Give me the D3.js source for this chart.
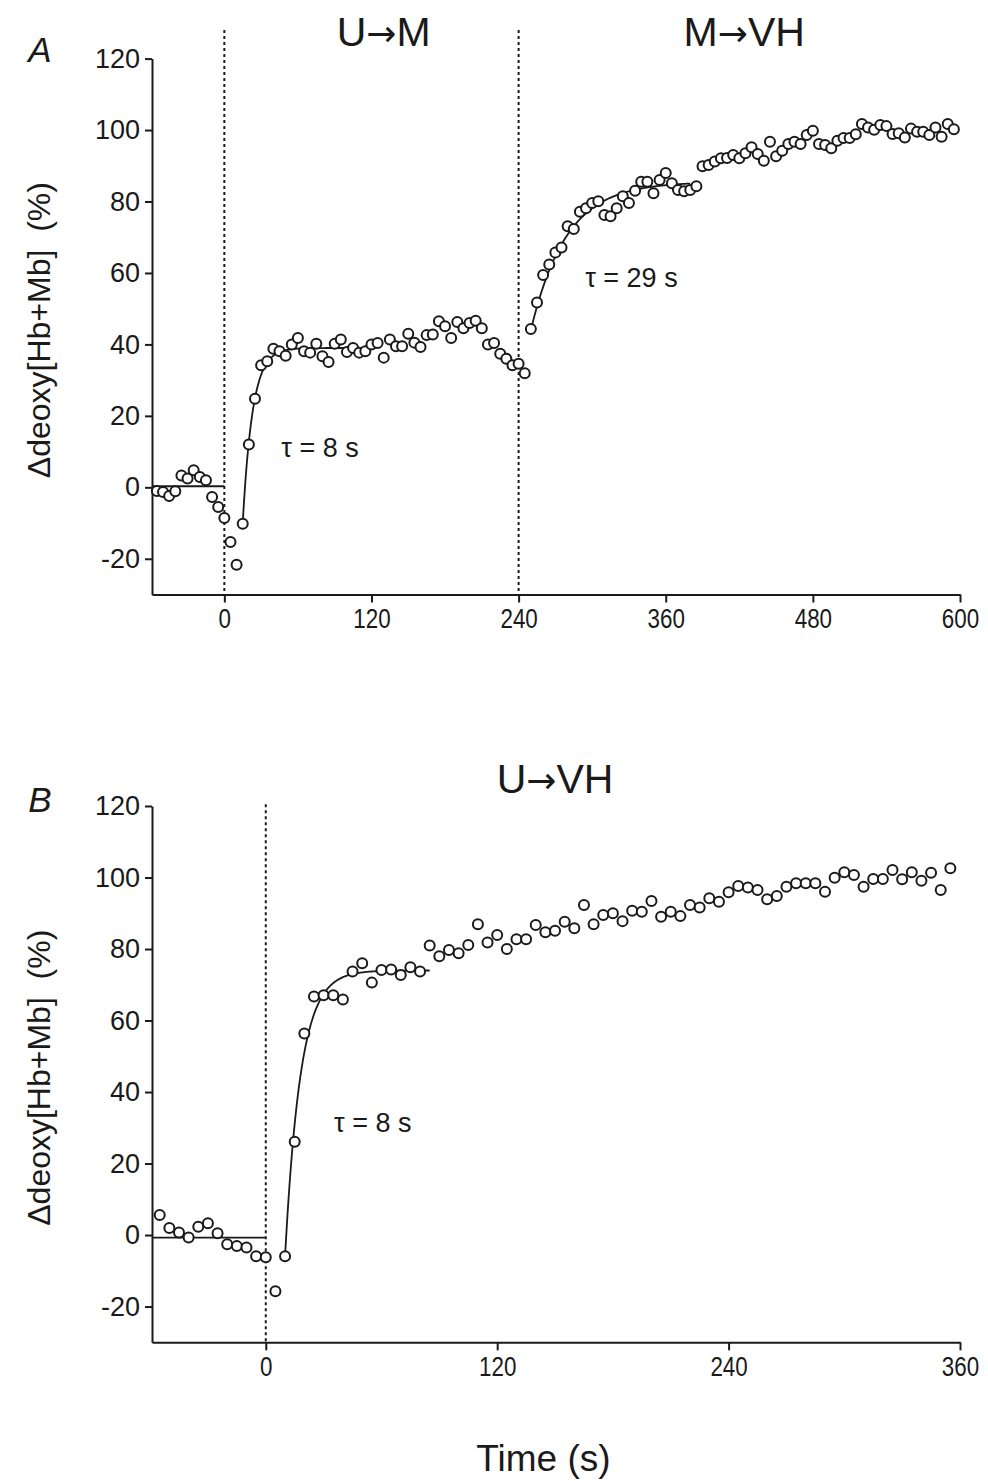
<!DOCTYPE html>
<html>
<head>
<meta charset="utf-8">
<script src="https://cdn.jsdelivr.net/npm/d3@7"></script>
<style>
  body { margin: 0; background: #fff; }
  text { font-family: "Liberation Sans", Arial, sans-serif; fill: #1a1a1a; }
</style>
</head>
<body>
<script>
// panel A: U->M at 0 s, M->VH at 240 s (samples every 5 s)
const timeA = [-55, -50, -45, -40, -35, -30, -25, -20, -15, -10, -5, 0,
  5, 10, 15, 20, 25, 30, 35, 40, 45, 50, 55, 60, 65, 70, 75, 80, 85, 90, 95, 100,
  105, 110, 115, 120, 125, 130, 135, 140, 145, 150, 155, 160, 165, 170, 175, 180,
  185, 190, 195, 200, 205, 210, 215, 220, 225, 230, 235, 240, 245,
  250, 255, 260, 265, 270, 275, 280, 285, 290, 295, 300, 305, 310, 315, 320, 325,
  330, 335, 340, 345, 350, 355, 360, 365, 370, 375, 380, 385, 390, 395, 400, 405,
  410, 415, 420, 425, 430, 435, 440, 445, 450, 455, 460, 465, 470, 475, 480, 485,
  490, 495, 500, 505, 510, 515, 520, 525, 530, 535, 540, 545, 550, 555, 560, 565,
  570, 575, 580, 585, 590, 595];
const deoxyA = [-1.0, -1.3, -2.4, -1.1, 3.3, 2.5, 4.8, 2.9, 2.0, -2.7, -5.5, -8.6,
  -15.3, -21.7, -10.2, 12.0, 24.8, 34.2, 35.3, 38.8, 38.1, 36.8, 40.0, 41.8, 38.1, 37.7, 40.2, 36.7, 35.1, 40.2, 41.4, 37.9,
  39.0, 37.7, 38.1, 40.0, 40.4, 36.3, 41.4, 39.5, 39.5, 43.0, 40.5, 39.3, 42.6, 42.8, 46.5, 45.1,
  41.8, 46.3, 44.5, 46.0, 46.6, 44.5, 40.0, 40.4, 37.4, 36.0, 34.2, 34.6, 31.9,
  44.3, 51.7, 59.4, 62.4, 65.7, 67.1, 73.1, 72.3, 77.1, 78.1, 79.6, 80.1, 76.2, 75.9, 78.1, 81.5,
  79.6, 83.0, 85.5, 85.5, 82.3, 86.0, 88.0, 85.1, 83.2, 82.9, 83.2, 84.3, 89.9, 90.2, 91.2, 92.1,
  92.2, 93.0, 92.1, 93.5, 95.2, 93.3, 91.4, 96.7, 92.7, 94.2, 96.1, 96.7, 96.1, 98.6, 99.8, 96.1,
  95.8, 94.9, 97.0, 97.8, 97.8, 98.8, 101.7, 100.7, 100.1, 101.4, 101.1, 98.9, 99.1, 97.9, 100.4, 99.5,
  99.5, 98.6, 100.7, 98.1, 101.7, 100.2];

// panel B: U->VH at 0 s
const timeB = [-55, -50, -45, -40, -35, -30, -25, -20, -15, -10, -5, 0,
  5, 10, 15, 20, 25, 30, 35, 40, 45, 50, 55, 60, 65, 70, 75, 80, 85, 90, 95, 100,
  105, 110, 115, 120, 125, 130, 135, 140, 145, 150, 155, 160, 165, 170, 175, 180,
  185, 190, 195, 200, 205, 210, 215, 220, 225, 230, 235, 240, 245, 250, 255, 260,
  265, 270, 275, 280, 285, 290, 295, 300, 305, 310, 315, 320, 325, 330, 335, 340,
  345, 350, 355];
const deoxyB = [5.6, 2.0, 0.7, -0.7, 2.3, 3.3, 0.5, -2.6, -3.1, -3.5, -5.9, -6.2,
  -15.7, -5.9, 26.1, 56.4, 66.7, 67.1, 67.1, 65.9, 73.7, 76.0, 70.6, 74.1, 74.3, 72.7, 74.9, 73.7, 81.0, 78.0, 79.7, 78.8,
  81.1, 86.9, 81.8, 83.9, 80.0, 82.7, 82.7, 86.7, 84.7, 85.1, 87.6, 85.8, 92.3, 86.9, 89.5, 90.0,
  87.8, 90.7, 90.4, 93.4, 89.0, 90.4, 89.2, 92.3, 91.6, 94.2, 93.2, 95.9, 97.6, 97.2, 96.5, 93.9,
  94.8, 97.4, 98.4, 98.4, 98.4, 96.0, 99.9, 101.5, 100.7, 97.4, 99.6, 99.6, 102.1, 99.5, 101.5, 99.1,
  101.3, 96.5, 102.6];

// mono-exponential fits: start time, start value, amplitude, tau, end time
const fitsA = [
  { t0: 15, y0: -10, amp: 49, tau: 8, t1: 120 },
  { t0: 250, y0: 44, amp: 41.5, tau: 29, t1: 380 }
];
const fitsB = [
  { t0: 10, y0: -6, amp: 80, tau: 8, t1: 85 }
];
const baselineA = 0.3;
const baselineB = -0.7;

const yTicks = [-20, 0, 20, 40, 60, 80, 100, 120];
const xTicksA = [0, 120, 240, 360, 480, 600];
const xTicksB = [0, 120, 240, 360];

const svg = d3.select("body").append("svg")
  .attr("width", 988)
  .attr("height", 1481);

function drawPanel(p) {
  const x = d3.scaleLinear().domain(p.xDomain).range(p.xRange);
  const y = d3.scaleLinear().domain([-30, 120]).range(p.yRange);
  const g = svg.append("g");

  // step-change markers
  g.selectAll(".step")
    .data(p.steps)
    .enter().append("line")
    .attr("x1", d => x(d)).attr("x2", d => x(d))
    .attr("y1", y(p.dashTop)).attr("y2", y(-30))
    .attr("stroke", "#1a1a1a")
    .attr("stroke-width", 2)
    .attr("stroke-dasharray", "3,3");

  // x axis (labels are a condensed face in the original)
  const xAxis = g.append("g")
    .attr("transform", "translate(0," + y(-30) + ")")
    .call(d3.axisBottom(x).tickValues(p.xTicks).tickFormat(d => String(d))
      .tickSize(8).tickSizeOuter(0).tickPadding(6));
  xAxis.selectAll("text")
    .style("font-size", "28px")
    .attr("transform", "scale(0.8,1)");

  // y axis
  const yAxis = g.append("g")
    .attr("transform", "translate(" + x(p.xDomain[0]) + ",0)")
    .call(d3.axisLeft(y).tickValues(yTicks).tickFormat(d => String(d))
      .tickSize(7).tickSizeOuter(0).tickPadding(5));
  yAxis.selectAll("text").style("font-size", "27px");

  g.selectAll(".domain, .tick line")
    .attr("stroke", "#1a1a1a")
    .attr("stroke-width", 2);

  // baseline mean
  g.append("line")
    .attr("x1", x(p.xDomain[0])).attr("x2", x(0))
    .attr("y1", y(p.baseline)).attr("y2", y(p.baseline))
    .attr("stroke", "#1a1a1a")
    .attr("stroke-width", 1.8);

  // fitted curves
  const line = d3.line()
    .x(d => x(d[0]))
    .y(d => y(d[1]));
  p.fits.forEach(f => {
    const pts = d3.range(f.t0, f.t1 + 0.5, 0.5)
      .map(t => [t, f.y0 + f.amp * (1 - Math.exp(-(t - f.t0) / f.tau))]);
    g.append("path")
      .datum(pts)
      .attr("fill", "none")
      .attr("stroke", "#1a1a1a")
      .attr("stroke-width", 1.8)
      .attr("d", line);
  });

  // data points
  g.selectAll(".pt")
    .data(p.time.map((t, i) => [t, p.values[i]]))
    .enter().append("circle")
    .attr("cx", d => x(d[0]))
    .attr("cy", d => y(d[1]))
    .attr("r", 5)
    .attr("fill", "#fff")
    .attr("stroke", "#1a1a1a")
    .attr("stroke-width", 2);

  // tau labels
  p.taus.forEach(d => {
    g.append("text")
      .attr("x", x(d.t)).attr("y", y(d.v))
      .attr("text-anchor", "middle")
      .attr("dominant-baseline", "middle")
      .style("font-size", "27px")
      .text(d.label);
  });

  // transition titles, e.g. U→M
  p.titles.forEach(d => {
    const t = g.append("text")
      .attr("x", x(d.t)).attr("y", y(d.v))
      .attr("text-anchor", "middle")
      .style("font-size", "41px");
    t.append("tspan").text(d.from);
    t.append("tspan")
      .style("font-family", '"DejaVu Sans", sans-serif')
      .style("font-size", "36px")
      .text("\u2192");
    t.append("tspan").text(d.to);
  });

  // panel letter
  g.append("text")
    .attr("x", 40).attr("y", y(p.letterV))
    .attr("text-anchor", "middle")
    .style("font-size", "35px")
    .style("font-style", "italic")
    .text(p.letter);

  // y axis label
  g.append("text")
    .attr("transform", "translate(50," + y(44) + ") rotate(-90)")
    .attr("text-anchor", "middle")
    .style("font-size", "32px")
    .style("white-space", "pre")
    .text("\u0394deoxy[Hb+Mb]  (%)");

  return { x, y };
}

drawPanel({
  time: timeA, values: deoxyA, fits: fitsA, baseline: baselineA,
  xDomain: [-59, 600], xRange: [152, 960], yRange: [594.5, 58.6],
  xTicks: xTicksA, steps: [0, 240], dashTop: 128,
  taus: [{ t: 78, v: 10.6, label: "\u03c4 = 8 s" }, { t: 332, v: 58, label: "\u03c4 = 29 s" }],
  titles: [{ t: 130, v: 123.5, from: "U", to: "M" }, { t: 424, v: 123.5, from: "M", to: "VH" }],
  letter: "A", letterV: 119
});

const pB = drawPanel({
  time: timeB, values: deoxyB, fits: fitsB, baseline: baselineB,
  xDomain: [-59, 360], xRange: [152, 960], yRange: [1342.3, 806],
  xTicks: xTicksB, steps: [0], dashTop: 120.5,
  taus: [{ t: 55.5, v: 30.8, label: "\u03c4 = 8 s" }],
  titles: [{ t: 150, v: 123.5, from: "U", to: "VH" }],
  letter: "B", letterV: 118.3
});

// shared x axis title
svg.append("text")
  .attr("x", pB.x(144))
  .attr("y", 1471)
  .attr("text-anchor", "middle")
  .style("font-size", "37px")
  .text("Time (s)");
</script>
</body>
</html>
